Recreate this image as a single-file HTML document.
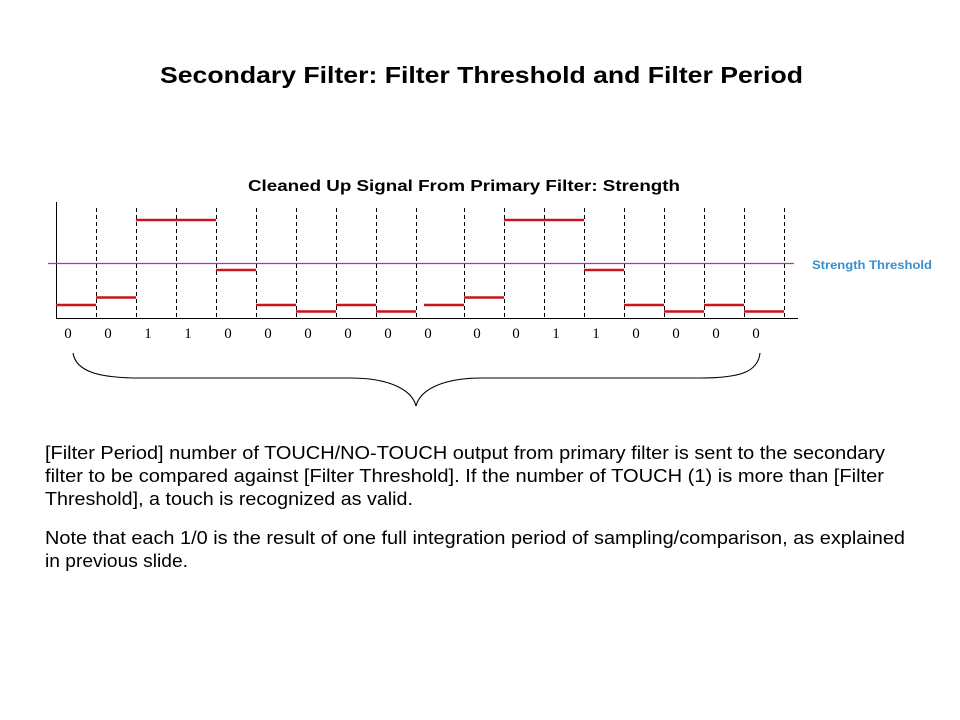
<!DOCTYPE html>
<html><head><meta charset="utf-8"><style>
html,body{margin:0;padding:0;background:#fff;width:960px;height:720px;overflow:hidden}
svg{display:block}
.b{font-family:"Liberation Sans",sans-serif;font-size:18px;fill:#000}
.n{font-family:"Liberation Serif",serif;font-size:15px;fill:#000}
</style></head><body>
<svg width="960" height="720" viewBox="0 0 960 720">
<text x="160" y="83" textLength="643" lengthAdjust="spacingAndGlyphs" font-family="Liberation Sans,sans-serif" font-weight="bold" font-size="23" fill="#000">Secondary Filter: Filter Threshold and Filter Period</text>
<text x="248" y="191" textLength="432" lengthAdjust="spacingAndGlyphs" font-family="Liberation Sans,sans-serif" font-weight="bold" font-size="16" fill="#000">Cleaned Up Signal From Primary Filter: Strength</text>
<g stroke="#000" stroke-width="1" stroke-dasharray="4,3">
<line x1="96.5" y1="208" x2="96.5" y2="318"/><line x1="136.5" y1="208" x2="136.5" y2="318"/><line x1="176.5" y1="208" x2="176.5" y2="318"/><line x1="216.5" y1="208" x2="216.5" y2="318"/><line x1="256.5" y1="208" x2="256.5" y2="318"/><line x1="296.5" y1="208" x2="296.5" y2="318"/><line x1="336.5" y1="208" x2="336.5" y2="318"/><line x1="376.5" y1="208" x2="376.5" y2="318"/><line x1="416.5" y1="208" x2="416.5" y2="318"/>
<line x1="464.5" y1="208" x2="464.5" y2="318"/><line x1="504.5" y1="208" x2="504.5" y2="318"/><line x1="544.5" y1="208" x2="544.5" y2="318"/><line x1="584.5" y1="208" x2="584.5" y2="318"/><line x1="624.5" y1="208" x2="624.5" y2="318"/><line x1="664.5" y1="208" x2="664.5" y2="318"/><line x1="704.5" y1="208" x2="704.5" y2="318"/><line x1="744.5" y1="208" x2="744.5" y2="318"/><line x1="784.5" y1="208" x2="784.5" y2="318"/>
</g>
<line x1="56.5" y1="202" x2="56.5" y2="318" stroke="#000"/>
<line x1="56" y1="318.5" x2="798" y2="318.5" stroke="#000"/>
<line x1="48" y1="263.5" x2="794" y2="263.5" stroke="#b030c0" stroke-width="1.2"/>
<text x="812" y="269" textLength="120" lengthAdjust="spacingAndGlyphs" font-family="Liberation Sans,sans-serif" font-weight="bold" font-size="12" fill="#3a8fd0">Strength Threshold</text>
<g stroke="#c8161d" stroke-width="2.5">
<line x1="56" y1="305" x2="96" y2="305"/><line x1="96" y1="297.5" x2="136" y2="297.5"/><line x1="136" y1="220" x2="216" y2="220"/><line x1="216" y1="270" x2="256" y2="270"/><line x1="256" y1="305" x2="296" y2="305"/><line x1="296" y1="311.5" x2="336" y2="311.5"/><line x1="336" y1="305" x2="376" y2="305"/><line x1="376" y1="311.5" x2="416" y2="311.5"/>
<line x1="424" y1="305" x2="464" y2="305"/><line x1="464" y1="297.5" x2="504" y2="297.5"/><line x1="504" y1="220" x2="584" y2="220"/><line x1="584" y1="270" x2="624" y2="270"/><line x1="624" y1="305" x2="664" y2="305"/><line x1="664" y1="311.5" x2="704" y2="311.5"/><line x1="704" y1="305" x2="744" y2="305"/><line x1="744" y1="311.5" x2="784" y2="311.5"/>
</g>
<g class="n" text-anchor="middle">
<text x="68" y="338">0</text><text x="108" y="338">0</text><text x="148" y="338">1</text><text x="188" y="338">1</text><text x="228" y="338">0</text><text x="268" y="338">0</text><text x="308" y="338">0</text><text x="348" y="338">0</text><text x="388" y="338">0</text><text x="428" y="338">0</text>
<text x="477" y="338">0</text><text x="516" y="338">0</text><text x="556" y="338">1</text><text x="596" y="338">1</text><text x="636" y="338">0</text><text x="676" y="338">0</text><text x="716" y="338">0</text><text x="756" y="338">0</text>
</g>
<path d="M73,353 C76,372 100,378 140,378 L350,378 C390,378 412,390 416,406 C420,390 442,378 482,378 L700,378 C740,378 758,372 760,353" fill="none" stroke="#000" stroke-width="1.1"/>
<g class="b">
<text x="45" y="459" textLength="840" lengthAdjust="spacingAndGlyphs">[Filter Period] number  of TOUCH/NO-TOUCH  output from primary filter is sent to the secondary</text>
<text x="45" y="482" textLength="839" lengthAdjust="spacingAndGlyphs">filter to be compared against [Filter Threshold].  If the number of TOUCH (1) is more than [Filter</text>
<text x="45" y="505" textLength="368" lengthAdjust="spacingAndGlyphs">Threshold],  a touch  is recognized  as valid.</text>
<text x="45" y="544" textLength="860" lengthAdjust="spacingAndGlyphs">Note that each 1/0 is the result of one full integration period of sampling/comparison,  as explained</text>
<text x="45" y="567" textLength="143" lengthAdjust="spacingAndGlyphs">in previous  slide.</text>
</g>
</svg>
</body></html>
